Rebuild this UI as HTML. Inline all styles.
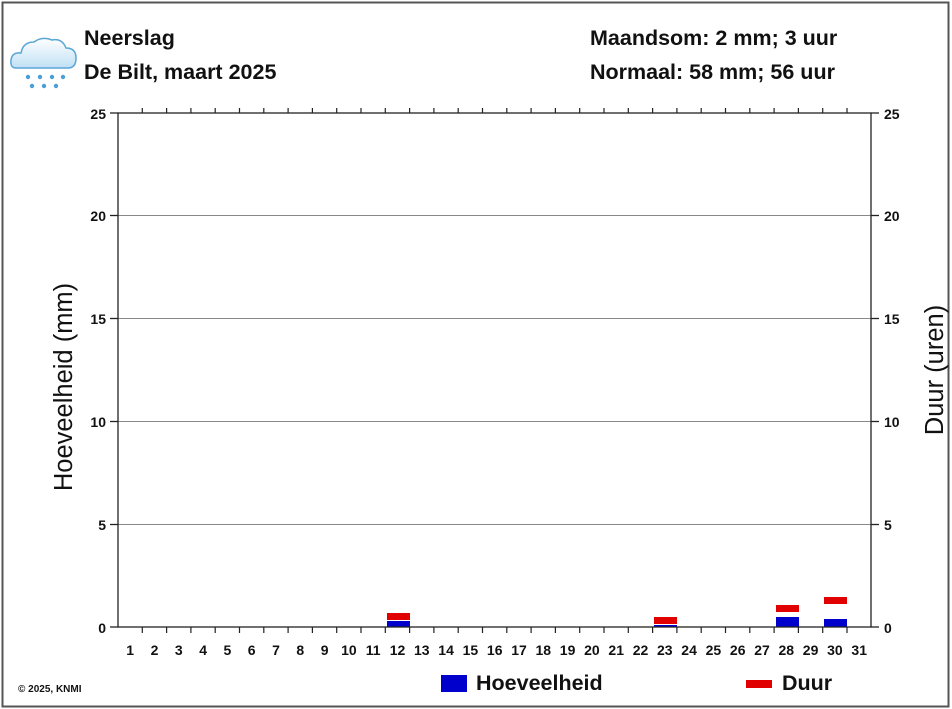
<!DOCTYPE html>
<html><head><meta charset="utf-8"><style>
body{margin:0;background:#fff}
svg{display:block;font-family:"Liberation Sans",Arial,sans-serif}
</style></head><body>
<svg width="952" height="709" viewBox="0 0 952 709">
<rect x="2.5" y="2.5" width="946" height="704" fill="#fff" stroke="#555" stroke-width="2"/>
<defs><linearGradient id="cg" x1="0" y1="0" x2="0" y2="1"><stop offset="0" stop-color="#fff"/><stop offset="1" stop-color="#bfe0f5"/></linearGradient></defs>
<path d="M16 68 Q10 68 11 60 Q12 52 21 53 Q23 42 34 42 Q42 36 52 40 Q62 38 66 48 Q76 48 76 58 Q76 68 68 68 Z" fill="url(#cg)" stroke="#5aa6d6" stroke-width="1.5"/>
<g fill="#4a9fd8">
<circle cx="28" cy="77" r="2.2"/><circle cx="40" cy="77" r="2.2"/><circle cx="52" cy="77" r="2.2"/><circle cx="63" cy="77" r="2.2"/>
<circle cx="32" cy="86" r="2.2"/><circle cx="44" cy="86" r="2.2"/><circle cx="56" cy="86" r="2.2"/>
</g>
<g font-weight="bold" font-size="21.5" fill="#111">
<text x="84" y="45">Neerslag</text>
<text x="84" y="79">De Bilt, maart 2025</text>
<text x="590" y="45">Maandsom: 2 mm; 3 uur</text>
<text x="590" y="79">Normaal: 58 mm; 56 uur</text>
</g>
<g stroke="#888" stroke-width="1">
<line x1="118" y1="215.5" x2="871" y2="215.5"/>
<line x1="118" y1="318.5" x2="871" y2="318.5"/>
<line x1="118" y1="421.5" x2="871" y2="421.5"/>
<line x1="118" y1="524.5" x2="871" y2="524.5"/>
</g>
<g fill="#e00000">
<rect x="387" y="613" width="23" height="7"/>
<rect x="654" y="617" width="23" height="7"/>
<rect x="776" y="605" width="23" height="7"/>
<rect x="824" y="597" width="23" height="7"/>
</g>
<g fill="#0000cc">
<rect x="387" y="621" width="23" height="6"/>
<rect x="654" y="625" width="23" height="2"/>
<rect x="776" y="617" width="23" height="10"/>
<rect x="824" y="619" width="23" height="8"/>
</g>
<g stroke="#222" stroke-width="1.3" fill="none">
<rect x="118" y="113" width="753" height="514"/>
<line x1="110" y1="113" x2="118" y2="113"/><line x1="110" y1="215.5" x2="118" y2="215.5"/><line x1="110" y1="318.5" x2="118" y2="318.5"/><line x1="110" y1="421.5" x2="118" y2="421.5"/><line x1="110" y1="524.5" x2="118" y2="524.5"/><line x1="110" y1="627" x2="118" y2="627"/>
<line x1="871" y1="113" x2="879" y2="113"/><line x1="871" y1="215.5" x2="879" y2="215.5"/><line x1="871" y1="318.5" x2="879" y2="318.5"/><line x1="871" y1="421.5" x2="879" y2="421.5"/><line x1="871" y1="524.5" x2="879" y2="524.5"/><line x1="871" y1="627" x2="879" y2="627"/>
</g>
<g stroke="#222" stroke-width="1.2">
<path d="M142.3 627v6M166.6 627v6M190.9 627v6M215.2 627v6M239.5 627v6M263.8 627v6M288.1 627v6M312.4 627v6M336.7 627v6M361 627v6M385.3 627v6M409.6 627v6M433.9 627v6M458.2 627v6M482.5 627v6M506.8 627v6M531.1 627v6M555.4 627v6M579.7 627v6M604 627v6M628.3 627v6M652.6 627v6M676.9 627v6M701.2 627v6M725.5 627v6M749.8 627v6M774.1 627v6M798.4 627v6M822.7 627v6M847 627v6"/>
<path d="M142.3 113v-5M166.6 113v-5M190.9 113v-5M215.2 113v-5M239.5 113v-5M263.8 113v-5M288.1 113v-5M312.4 113v-5M336.7 113v-5M361 113v-5M385.3 113v-5M409.6 113v-5M433.9 113v-5M458.2 113v-5M482.5 113v-5M506.8 113v-5M531.1 113v-5M555.4 113v-5M579.7 113v-5M604 113v-5M628.3 113v-5M652.6 113v-5M676.9 113v-5M701.2 113v-5M725.5 113v-5M749.8 113v-5M774.1 113v-5M798.4 113v-5M822.7 113v-5M847 113v-5"/>
</g>
<g font-size="14" font-weight="bold" fill="#111" text-anchor="end">
<text x="106" y="119">25</text><text x="106" y="221">20</text><text x="106" y="324">15</text><text x="106" y="427">10</text><text x="106" y="530">5</text><text x="106" y="633">0</text>
</g>
<g font-size="14" font-weight="bold" fill="#111">
<text x="884" y="119">25</text><text x="884" y="221">20</text><text x="884" y="324">15</text><text x="884" y="427">10</text><text x="884" y="530">5</text><text x="884" y="633">0</text>
</g>
<g font-size="14" font-weight="bold" fill="#111" text-anchor="middle">
<text x="130.2" y="655">1</text><text x="154.5" y="655">2</text><text x="178.8" y="655">3</text><text x="203.1" y="655">4</text><text x="227.4" y="655">5</text><text x="251.7" y="655">6</text><text x="276" y="655">7</text><text x="300.3" y="655">8</text><text x="324.6" y="655">9</text><text x="348.9" y="655">10</text><text x="373.2" y="655">11</text><text x="397.5" y="655">12</text><text x="421.8" y="655">13</text><text x="446.1" y="655">14</text><text x="470.4" y="655">15</text><text x="494.7" y="655">16</text><text x="519" y="655">17</text><text x="543.3" y="655">18</text><text x="567.6" y="655">19</text><text x="591.9" y="655">20</text><text x="616.2" y="655">21</text><text x="640.5" y="655">22</text><text x="664.8" y="655">23</text><text x="689.1" y="655">24</text><text x="713.4" y="655">25</text><text x="737.7" y="655">26</text><text x="762" y="655">27</text><text x="786.3" y="655">28</text><text x="810.6" y="655">29</text><text x="834.9" y="655">30</text><text x="859.2" y="655">31</text>
</g>
<text transform="translate(72,387) rotate(-90)" font-size="25.5" fill="#111" text-anchor="middle">Hoeveelheid (mm)</text>
<text transform="translate(943,370) rotate(-90)" font-size="25.5" fill="#111" text-anchor="middle">Duur (uren)</text>
<text x="18" y="692" font-size="10" font-weight="bold" fill="#111">© 2025, KNMI</text>
<rect x="441" y="675" width="26" height="17" fill="#0000cc"/>
<text x="476" y="690" font-size="21.5" font-weight="bold" fill="#111">Hoeveelheid</text>
<rect x="746" y="680" width="26" height="8" fill="#e00000"/>
<text x="782" y="690" font-size="21.5" font-weight="bold" fill="#111">Duur</text>
</svg>
</body></html>
